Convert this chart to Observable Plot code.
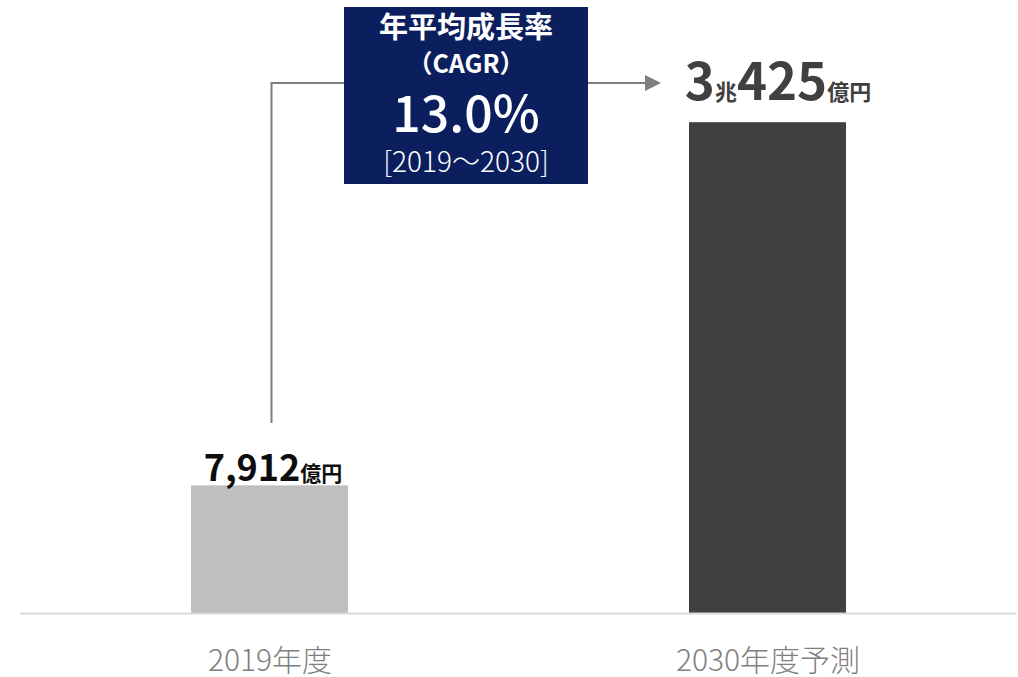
<!DOCTYPE html>
<html><head><meta charset="utf-8">
<script src="https://cdn.jsdelivr.net/npm/d3@7"></script>
<script src="https://cdn.jsdelivr.net/npm/@observablehq/plot@0.6"></script>
<style>
body{margin:0;background:#fff;}
#chart svg{font-family:"Noto Sans CJK JP","Noto Sans",sans-serif;}
</style></head><body><div id="chart"></div>
<script>
// data
const categories = ["2019年度", "2030年度予測"];
const values = [7912, 30425];
// value labels split into parts: big number / small unit alternating
const labelParts = [["7,912", "億円"], ["3", "兆", "425", "億円"]];
const cagrLines = ["年平均成長率", "（CAGR）", "13.0%", "[2019～2030]"];

const barColors = ["#bfbfbf", "#404040"];
const labelColors = ["#0d0d0d", "#404040"];

const data = categories.map((c, i) => ({cat: c, value: values[i], label: labelParts[i].join(""), idx: i}));

const chart = Plot.plot({
  width: 1018,
  height: 677,
  marginTop: 0,
  marginBottom: 64,
  marginLeft: 20,
  marginRight: 2,
  x: {domain: categories, paddingInner: 0.685, paddingOuter: 0.3407, label: null},
  y: {domain: [0, 38000], axis: null},
  marks: [
    Plot.barY(data, {x: "cat", y: "value", fill: (d) => barColors[d.idx]}),
    Plot.ruleY([0], {stroke: "#d9d9d9", strokeWidth: 2}),
    Plot.axisX({tickSize: 0, tickPadding: 36, fontSize: 30, fill: "#7f7f7f", fontWeight: 300}),
    Plot.text(data.filter(d => d.idx === 0), {x: "cat", y: "value", text: "label", lineAnchor: "bottom", dy: -5, dx: 3, fill: labelColors[0], className: "vlabel vl0"}),
    Plot.text(data.filter(d => d.idx === 1), {x: "cat", y: "value", text: "label", lineAnchor: "bottom", dy: -23, dx: 10, fill: labelColors[1], className: "vlabel vl1"})
  ]
});
document.getElementById("chart").appendChild(chart);
const svg = d3.select(chart);

// rebuild value labels with mixed font sizes
const bigSizes = [36, 51];
const smallSizes = [21, 22];
const bigWeights = [700, 700];
[0, 1].forEach(i => {
  svg.selectAll(".vl" + i + " text").each(function () {
    const t = d3.select(this);
    t.text(null);
    labelParts[i].forEach((p, j) => {
      t.append("tspan").text(p)
        .attr("font-size", j % 2 === 0 ? bigSizes[i] : smallSizes[i])
        .attr("font-weight", bigWeights[i]);
    });
  });
});

// annotation: connector and CAGR box
const bars = chart.querySelectorAll("g[aria-label='bar'] rect");
const b0 = bars[0];
const cx0 = +b0.getAttribute("x") + +b0.getAttribute("width") / 2 + 2;
const yTopLine = 83;
const ann = svg.append("g");
ann.append("path")
  .attr("d", `M${cx0},423V${yTopLine}H647`)
  .attr("fill", "none").attr("stroke", "#7f7f7f").attr("stroke-width", 2);
ann.append("path")
  .attr("d", `M645,${yTopLine - 8}L661,${yTopLine}L645,${yTopLine + 8}Z`)
  .attr("fill", "#7f7f7f");
ann.append("rect").attr("x", 344).attr("y", 7).attr("width", 244).attr("height", 177).attr("fill", "#0b1f5e");
const cx = 466;
const lineSpecs = [
  {y: 38, size: 29, weight: 700},
  {y: 73, size: 25, weight: 700},
  {y: 132, size: 50, weight: 500},
  {y: 172, size: 28, weight: 300}
];
cagrLines.forEach((s, i) => {
  ann.append("text").text(s)
    .attr("x", cx).attr("y", lineSpecs[i].y)
    .attr("text-anchor", "middle")
    .attr("fill", "#ffffff")
    .attr("font-size", lineSpecs[i].size)
    .attr("font-weight", lineSpecs[i].weight);
});
</script></body></html>
